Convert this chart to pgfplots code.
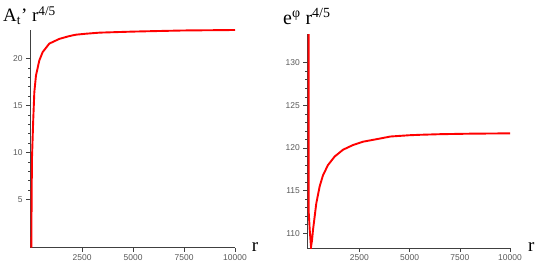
\documentclass[border=0pt]{standalone}
\usepackage{fontspec}
\setmainfont{Liberation Serif}
\newfontfamily\tickfont{Liberation Sans}
\usepackage{pgfplots}
\pgfplotsset{compat=1.18}
\begin{document}
\begin{tikzpicture}[x=1bp,y=1bp]
\path[use as bounding box] (0,0) rectangle (537,267);
\pgfplotsset{mystyle/.style={
 scale only axis, axis lines=left, axis line style={-, black!75, line width=0.8bp},
 tick align=outside, major tick length=4bp, minor tick length=2bp,
 every tick/.style={black!75, line width=0.6bp},
 tick label style={font=\tickfont\fontsize{8.5}{10}\selectfont, text=black!65},
 /pgf/number format/assume math mode=true,
 /pgf/number format/1000 sep={},
 scaled x ticks=false, scaled y ticks=false,
 xtick={2500,5000,7500,10000}, xmax=10000,
 xticklabel style={yshift=1bp},
 minor y tick num=4,
 anchor=south west,
 clip=true,
}}
\begin{axis}[mystyle, at={(30bp,19.3bp)}, width=205bp, height=217.7bp,
  xmin=-59, ymin=-0.15, ymax=23.05, ytick={5,10,15,20}]
\addplot[red, line width=1.9bp] coordinates {
(10,-0.15) (20,5.3) (40,9.5) (100,13.5) (154,16.45) (235,18.2) (397,19.8)
(564,20.7) (887,21.6) (1377,22.1) (1867,22.4) (2195,22.55) (2720,22.66)
(3370,22.77) (5000,22.88) (6000,22.93) (7500,23.0) (10000,23.05)};
\end{axis}
\begin{axis}[mystyle, at={(307.3bp,19bp)}, width=202.7bp, height=213.7bp,
  xmin=-95, ymin=108.28, ymax=133.33, ytick={110,115,120,125,130}]
\addplot[red, line width=1.9bp] coordinates {
(-35,150) (-30,112.7) (25,110.4) (90,108.4) (140,109.2) (189,110.4)
(352,113.5) (520,115.5) (685,116.8) (934,118.0) (1267,119.0) (1683,119.8)
(2181,120.35) (2679,120.74) (3500,121.1) (4050,121.35) (5000,121.5)
(5520,121.55) (6500,121.62) (8000,121.68) (10000,121.72)};
\end{axis}
\node[anchor=base west, inner sep=0] at (3bp,245.3bp) {\fontsize{19}{23}\selectfont A\textsubscript{t}’ r\textsuperscript{4/5}};
\node[anchor=base west, inner sep=0] at (283bp,242bp) {\fontsize{20}{24}\selectfont e\textsuperscript{φ} r\textsuperscript{4/5}};
\node[anchor=base west, inner sep=0] at (251.7bp,16bp) {\fontsize{19}{22}\selectfont r};
\node[anchor=base west, inner sep=0] at (528bp,15.3bp) {\fontsize{19}{22}\selectfont r};
\end{tikzpicture}
\end{document}
